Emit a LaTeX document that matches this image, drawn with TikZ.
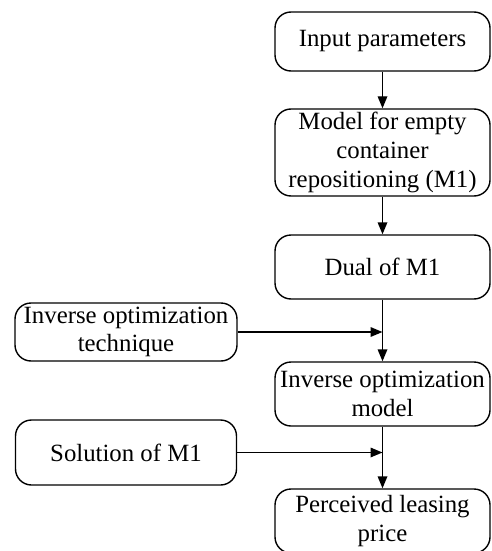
\documentclass[tikz,border=0pt]{standalone}
\usepackage{fontspec}
\setmainfont{Liberation Serif}
\usetikzlibrary{arrows.meta}
\tikzset{
	stepbox/.style={draw, rounded corners=8pt, line width=0.7pt, align=center,
		minimum width=107.5pt, inner xsep=1.5pt, inner ysep=1pt,
		font=\fontsize{12.4}{14.3}\selectfont},
}
\begin{document}
\begin{tikzpicture}[>={Triangle[length=6pt,width=4.8pt]},x=0.5pt,y=-0.5pt,line width=0.7pt]
		\def\xr{382.5} % right column
		\def\xl{126}   % left column
		\clip (0,0) rectangle (492,551);
		\node[stepbox,minimum height=29.5pt] (inp) at (\xr,41.5) {Input parameters};
		\node[stepbox,minimum height=43.5pt] (mone) at (\xr,152.5) {Model for empty\\container\\repositioning (M1)};
		\node[stepbox,minimum height=32pt] (dual) at (\xr,267) {Dual of M1};
		\node[stepbox,minimum height=29pt,minimum width=111pt] (tech) at (\xl,332) {Inverse optimization\\technique};
		\node[stepbox,minimum height=32pt] (iom) at (\xr,394) {Inverse optimization\\model};
		\node[stepbox,minimum height=32.5pt,minimum width=110.5pt] (sol) at (\xl,452.5) {Solution of M1};
		\node[stepbox,minimum height=32pt] (price) at (\xr,521) {Perceived leasing\\price};
		\draw[->] (inp) -- (mone);
		\draw[->] (mone) -- (dual);
		\draw[->] (dual) -- (iom);
		\draw[->] (iom) -- (price);
		\draw[->] (tech) -- (tech -| dual);
		\draw[->] (sol) -- (sol -| iom);
\end{tikzpicture}
\end{document}
